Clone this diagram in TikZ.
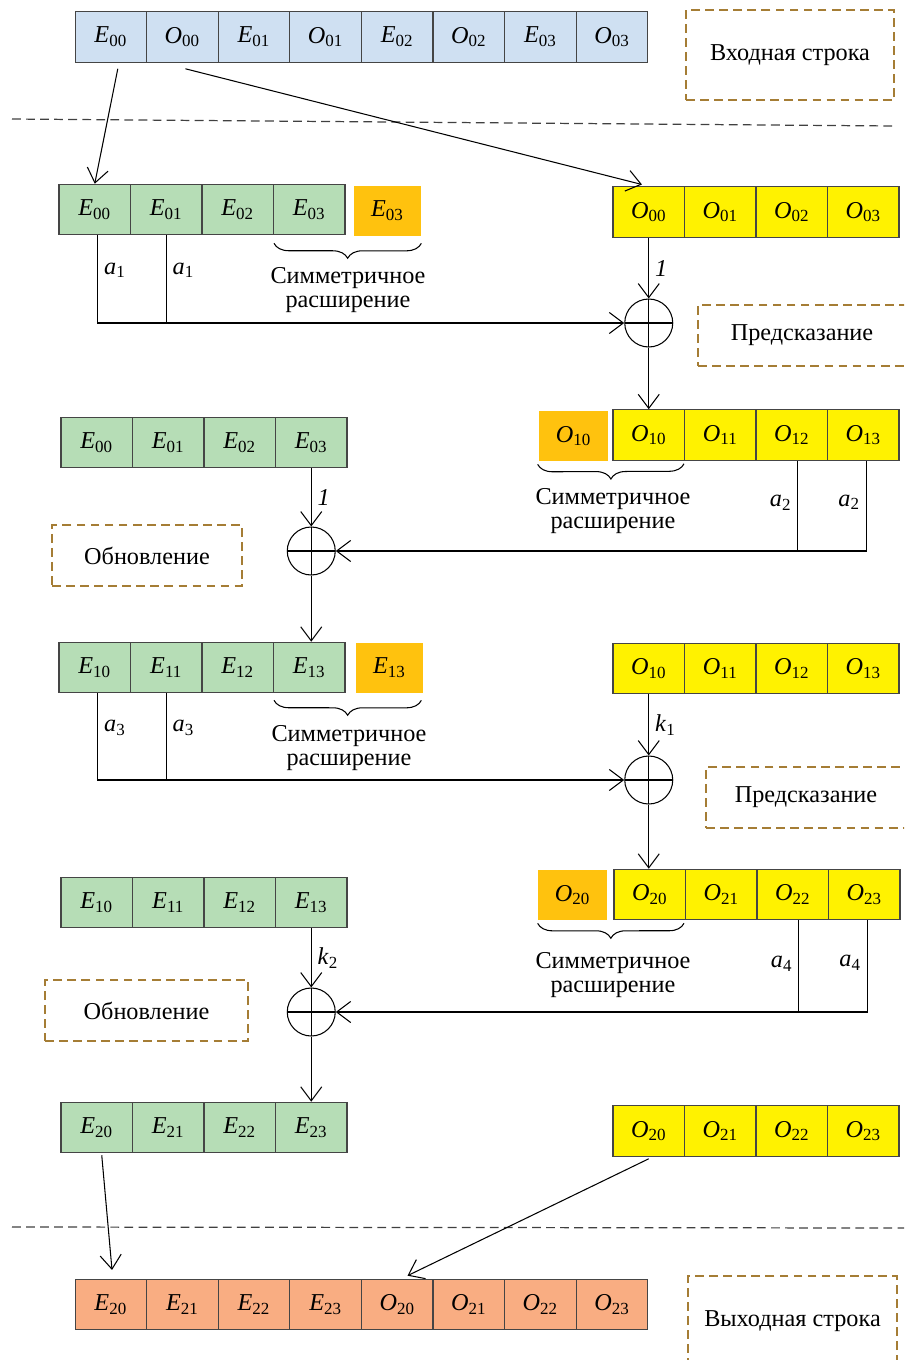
\documentclass[tikz,border=0pt]{standalone}
\usepackage{fontspec}
\setmainfont{Liberation Serif}
\usetikzlibrary{arrows.meta,calc,decorations.pathreplacing}

\definecolor{inblue}{HTML}{CFE0F2}
\definecolor{evgreen}{HTML}{B6DDB6}
\definecolor{odyellow}{HTML}{FFF200}
\definecolor{extorange}{HTML}{FFC20E}
\definecolor{outsalmon}{HTML}{F9AD82}
\definecolor{cellline}{HTML}{454545}
\definecolor{notebrown}{HTML}{A57D35}

\newcommand{\sig}[2]{\textit{#1}\textsubscript{#2}}

\begin{document}
\begin{tikzpicture}[x=0.02cm,y=-0.02cm,>={Straight Barb[length=8pt,width=12pt]},
    font=\fontsize{13.8}{13.9}\selectfont,
    cell/.style={draw=cellline,line width=0.6pt,minimum width=1.43cm,minimum height=1.01cm,inner sep=0pt},
    ext/.style={fill=extorange,minimum height=1cm,inner sep=0pt},
    adder/.style={circle,draw,line width=0.6pt,minimum size=0.96cm,inner sep=0pt,
      path picture={\draw[line width=0.6pt] (path picture bounding box.north) -- (path picture bounding box.south)
        (path picture bounding box.west) -- (path picture bounding box.east);}},
    note/.style={draw=notebrown,dash pattern=on 5pt off 3pt,line width=0.7pt,minimum height=1.22cm},
    link/.style={->,line width=0.6pt},
    wire/.style={line width=0.6pt},
    sep/.style={dash pattern=on 5pt off 3pt,line width=0.7pt,draw=black!75},
    brc/.style={decorate,decoration={brace,mirror,amplitude=8.5pt},line width=0.6pt}]

    \useasboundingbox (0,0) rectangle (904,1360);
    \clip (0,0) rectangle (904,1360);

    % input string
    \foreach \ltr/\idx [count=\k] in {E/00,O/00,E/01,O/01,E/02,O/02,E/03,O/03}
      \node[cell,fill=inblue] (in\k) at ({75+71.6*(\k-0.5)},37) {\sig{\ltr}{\idx}};
    \node[note,minimum width=4.16cm,minimum height=1.8cm] (inlbl) at (790,55) {Входная строка};

    \draw[sep] (12,119) -- (894,126);

    % prediction 1
    \foreach \ltr/\idx [count=\k] in {E/00,E/01,E/02,E/03}
      \node[cell,fill=evgreen] (g1-\k) at ({59+71.5*(\k-0.5)},209.5) {\sig{\ltr}{\idx}};
    \node[ext,minimum width=1.34cm] (ext1) at (387.5,211) {\sig{E}{03}};
    \foreach \ltr/\idx [count=\k] in {O/00,O/01,O/02,O/03}
      \node[cell,fill=odyellow] (y1-\k) at ({613+71.5*(\k-0.5)},212) {\sig{\ltr}{\idx}};

    \draw[link] ($(in1.south)+(7,6)$) -- (g1-1.north);
    \draw[link,shorten >=4pt] ($(in2.south)+(3,6)$) -- (y1-1.north);

    \draw[brc] ($(g1-4.south west)+(1,8)$) -- ($(ext1.south east)+(0,7)$);
    \node[align=center] (sym1) at (348,290) {Симметричное\\расширение};

    \node[adder] (plus1) at (648.75,323) {};
    \node[note,minimum width=4.16cm] (pred1) at (802,335.5) {Предсказание};
    \draw[link] (y1-1.south) -- node[right] (w1) {\textit{1}} (plus1.north);
    \draw[link] ($(g1-1.south)+(3,0)$) |- node[right,pos=0.2] (a1l) {\sig{a}{1}} (plus1.west);
    \draw[wire] (g1-2.south) -- node[right,pos=0.4] (a1r) {\sig{a}{1}} (g1-2.south |- plus1.west);

    % update 1
    \node[ext,minimum width=1.38cm] (ext2) at (573.5,436) {\sig{O}{10}};
    \foreach \ltr/\idx [count=\k] in {O/10,O/11,O/12,O/13}
      \node[cell,fill=odyellow] (y2-\k) at ({613+71.5*(\k-0.5)},435) {\sig{\ltr}{\idx}};
    \draw[link] (plus1.south) -- (plus1.south |- y2-1.north);
    \draw[brc] ($(ext2.south west)+(-1,3)$) -- ($(y2-1.south east)+(-1,3)$);
    \node[align=center] (sym2) at (613,511) {Симметричное\\расширение};

    \foreach \ltr/\idx [count=\k] in {E/00,E/01,E/02,E/03}
      \node[cell,fill=evgreen] (g2-\k) at ({61+71.5*(\k-0.5)},442.5) {\sig{\ltr}{\idx}};

    \node[adder] (plus2) at (311.25,551) {};
    \node[note,minimum width=3.8cm] (upd1) at (147,555.5) {Обновление};
    \draw[link] (g2-4.south) -- node[right] (w2) {\textit{1}} (plus2.north);
    \draw[link] ($(y2-4.south)+(3,0)$) |- node[left,pos=0.23] (a2r) {\sig{a}{2}} (plus2.east);
    \draw[wire] ($(y2-3.south)+(6,0)$) -- node[left,pos=0.47] (a2l) {\sig{a}{2}} ($(y2-3.south |- plus2.east)+(6,0)$);

    % prediction 2
    \foreach \ltr/\idx [count=\k] in {E/10,E/11,E/12,E/13}
      \node[cell,fill=evgreen] (g3-\k) at ({59+71.5*(\k-0.5)},667.5) {\sig{\ltr}{\idx}};
    \node[ext,minimum width=1.34cm] (ext3) at (389.5,668) {\sig{E}{13}};
    \draw[link] (plus2.south) -- (plus2.south |- g3-4.north);
    \draw[brc] ($(g3-4.south west)+(1,7)$) -- ($(ext3.south east)+(-2,7)$);
    \node[align=center] (sym3) at (349,748) {Симметричное\\расширение};

    \foreach \ltr/\idx [count=\k] in {O/10,O/11,O/12,O/13}
      \node[cell,fill=odyellow] (y3-\k) at ({613+71.5*(\k-0.5)},668.5) {\sig{\ltr}{\idx}};

    \node[adder] (plus3) at (648.75,780) {};
    \node[note,minimum width=4cm] (pred2) at (806,797.5) {Предсказание};
    \draw[link] (y3-1.south) -- node[right] (k1) {\sig{k}{1}} (plus3.north);
    \draw[link] ($(g3-1.south)+(3,0)$) |- node[right,pos=0.2] (a3l) {\sig{a}{3}} (plus3.west);
    \draw[wire] (g3-2.south) -- node[right,pos=0.4] (a3r) {\sig{a}{3}} (g3-2.south |- plus3.west);

    % update 2
    \node[ext,minimum width=1.38cm] (ext4) at (572.5,895) {\sig{O}{20}};
    \foreach \ltr/\idx [count=\k] in {O/20,O/21,O/22,O/23}
      \node[cell,fill=odyellow] (y4-\k) at ({614+71.5*(\k-0.5)},894.5) {\sig{\ltr}{\idx}};
    \draw[link] (plus3.south) -- (plus3.south |- y4-1.north);
    \draw[brc] ($(ext4.south west)+(0,3)$) -- ($(y4-1.south east)+(-2,3)$);
    \node[align=center] (sym4) at (613,975) {Симметричное\\расширение};

    \foreach \ltr/\idx [count=\k] in {E/10,E/11,E/12,E/13}
      \node[cell,fill=evgreen] (g4-\k) at ({61+71.5*(\k-0.5)},902.5) {\sig{\ltr}{\idx}};

    \node[adder] (plus4) at (311.25,1012) {};
    \node[note,minimum width=4.06cm] (upd2) at (146.5,1010.5) {Обновление};
    \draw[link] (g4-4.south) -- node[right] (k2) {\sig{k}{2}} (plus4.north);
    \draw[link] ($(y4-4.south)+(3,0)$) |- node[left,pos=0.23] (a4r) {\sig{a}{4}} (plus4.east);
    \draw[wire] ($(y4-3.south)+(6,0)$) -- node[left,pos=0.47] (a4l) {\sig{a}{4}} ($(y4-3.south |- plus4.east)+(6,0)$);

    % result
    \foreach \ltr/\idx [count=\k] in {E/20,E/21,E/22,E/23}
      \node[cell,fill=evgreen] (g5-\k) at ({61+71.5*(\k-0.5)},1127.5) {\sig{\ltr}{\idx}};
    \draw[link] (plus4.south) -- (plus4.south |- g5-4.north);
    \foreach \ltr/\idx [count=\k] in {O/20,O/21,O/22,O/23}
      \node[cell,fill=odyellow] (y5-\k) at ({613+71.5*(\k-0.5)},1131) {\sig{\ltr}{\idx}};

    \draw[sep] (12,1227) -- (904,1228);

    \foreach \ltr/\idx [count=\k] in {E/20,E/21,E/22,E/23,O/20,O/21,O/22,O/23}
      \node[cell,fill=outsalmon] (out\k) at ({75+71.6*(\k-0.5)},1304.5) {\sig{\ltr}{\idx}};
    \node[note,minimum width=4.18cm,minimum height=1.8cm] (outlbl) at (792.5,1321) {Выходная строка};

    \draw[link,shorten >=5pt] ($(g5-1.south)+(5,2)$) -- ($(out1.north)+(2,0)$);
    \draw[link,shorten >=4pt] ($(y5-1.south)+(0,2)$) -- ($(out5.north)+(4,0)$);
\end{tikzpicture}
\end{document}
